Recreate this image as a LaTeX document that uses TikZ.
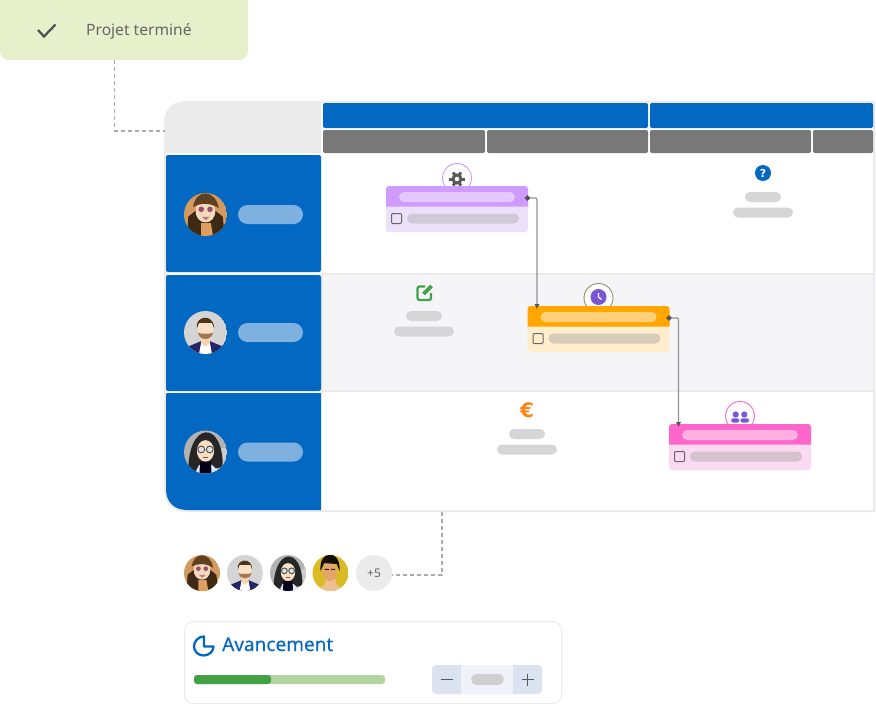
\documentclass[tikz,border=0pt]{standalone}
\usepackage{fontspec}
\setmainfont{Noto Sans}
\newfontfamily\iconfont{DejaVu Sans}
\newfontfamily\headfont[FakeBold=0.2]{Noto Sans}
\usetikzlibrary{arrows.meta,calc,shapes.misc}
\definecolor{blueA}{HTML}{0368C2}
\definecolor{blueB}{HTML}{7FB1E0}
\definecolor{greyA}{HTML}{787878}
\definecolor{edgeA}{HTML}{EBEBEB}
\definecolor{pillA}{HTML}{D6D6D6}
\definecolor{rowA}{HTML}{F5F5F8}
\definecolor{doneA}{HTML}{E6F1CB}
\definecolor{violetA}{HTML}{7A56D6}
\definecolor{greenA}{HTML}{43A047}
\definecolor{greenB}{HTML}{B4D5A0}
\definecolor{euroA}{HTML}{FF8412}
\definecolor{purpleA}{HTML}{CF9BFF}
\definecolor{purpleB}{HTML}{EDE0FB}
\definecolor{purpleC}{HTML}{E4C8FF}
\definecolor{purpleD}{HTML}{D0C9D8}
\definecolor{orangeA}{HTML}{FFA600}
\definecolor{orangeB}{HTML}{FFEDCB}
\definecolor{orangeC}{HTML}{FFD07A}
\definecolor{orangeD}{HTML}{D7CCB8}
\definecolor{orangeE}{HTML}{8E9160}
\definecolor{pinkA}{HTML}{FF66CC}
\definecolor{pinkB}{HTML}{FBD9F1}
\definecolor{pinkC}{HTML}{FFB0E3}
\definecolor{pinkD}{HTML}{D4C3CE}
\definecolor{stepA}{HTML}{DBE3F0}
\definecolor{stepB}{HTML}{EFF2F8}
\tikzstyle{pill}=[
	 rounded rectangle, fill=pillA,
	 minimum height=10pt, inner sep=0pt, outer sep=0pt
    ]
\tikzstyle{card}=[
	 rectangle, rounded corners=3pt,
	 minimum width=142pt, minimum height=46pt, inner sep=0pt, outer sep=0pt
    ]
\tikzstyle{bar}=[
	 rectangle, rounded corners=2pt, anchor=north west,
	 inner sep=0pt, outer sep=0pt
    ]
\tikzstyle{dashlink}=[draw=black!33, line width=1.6pt, dash pattern=on 4pt off 3pt]
\tikzstyle{tasklink}=[draw=black!42, line width=1.3pt, rounded corners=1pt, {Circle[length=5pt,color=black!68]}-{Latex[length=5pt,width=5.5pt,color=black!68]}]
\tikzstyle{badge}=[circle, draw, fill=white, line width=0.9pt, minimum size=29pt, inner sep=0pt]
\newcommand{\taskcard}[8]{%
	\node[badge,draw=#8] (#1-badge) at ($(#2,#3)+(71,-8)$) {};
	\node[card,anchor=north west,fill=#5] (#1) at (#2,#3) {};
	\fill[#4] ([yshift=-20.5pt]#1.north west) {[rounded corners=3pt] -- (#1.north west) -- (#1.north east)} -- ([yshift=-20.5pt]#1.north east) -- cycle;
	\node[pill,fill=#6,minimum width=116pt] (#1-title) at ($(#1.north)+(0,11)$) {};
	\node[rectangle,rounded corners=1pt,draw=black!60,line width=1pt,minimum size=10pt,inner sep=0pt,fill=#5] (#1-check) at ($(#1.north west)+(10.5,32.5)$) {};
	\node[pill,fill=#7,minimum width=112pt] (#1-line) at ($(#1.north west)+(77,32.5)$) {};
	\coordinate (#1-out) at ($(#1.north east)+(-3,12)$);
	\coordinate (#1-in) at ($(#1.north west)+(9.5,3)$);
}
\newcommand{\milestone}[3]{%
	\node[pill,minimum width=36pt] (#1-top) at (#2,#3) {};
	\node[pill,minimum width=60pt] (#1-low) at (#2,#3+15.5) {};
}
\newcommand{\avatarA}[3]{%
	\begin{scope}[shift={(#1,#2)},scale=#3/10]
		\clip (0,0) circle (10);
		\fill[brown!85!orange!80!white] (0,0) circle (10);
		\fill[black!68!brown] (-8.5,10) -- (-8,1) -- (-3,-3) -- (3,-3) -- (8,1) -- (9,10) -- cycle;
		\fill[brown!70!orange!75!white] (-2,10) -- (-2,4) -- (2.5,4) -- (3.5,10) -- cycle;
		\fill[brown!55!orange!30!white] (0,-1.5) ellipse (4.6 and 5.2);
		\fill[black!50!brown] (-5.8,-3.5) .. controls (-4.5,-12) and (4.5,-12) .. (6.2,-3) .. controls (2,-5.5) and (-2,-5.5) .. (-5.8,-3.5) -- cycle;
		\fill[purple!60!black!70!white] (-2,-2.4) circle (1.3) (2.1,-2.4) circle (1.3);
		\fill[white!70!red!70!black] (-1.7,1.1) -- (2,1.1) -- (0.2,2.6) -- cycle;
	\end{scope}
}
\newcommand{\avatarB}[3]{%
	\begin{scope}[shift={(#1,#2)},scale=#3/10]
		\clip (0,0) circle (10);
		\fill[black!17] (0,0) circle (10);
		\fill[blue!30!black!85!white] (-9,10) -- (-8,6.5) -- (-2,4) -- (2,4) -- (8,6.5) -- (9,10) -- cycle;
		\fill[white] (-3,10) -- (-2,4.5) -- (2,4.5) -- (3,10) -- cycle;
		\fill[brown!45!orange!35!white] (-2,5) -- (-2,1) -- (2,1) -- (2,5) -- (0,6.5) -- cycle;
		\fill[brown!35!orange!25!white] (0,-2) ellipse (3.6 and 4.8);
		\fill[brown!75!black!85!white] (-3.5,0) .. controls (-3,4) and (3,4) .. (3.5,0) -- (2,0.5) -- (-2,0.5) -- cycle;
		\fill[black!60!brown] (-4,-2) .. controls (-5,-8) and (4,-9) .. (4,-2) -- (3,-4.5) -- (-3,-4.5) -- cycle;
	\end{scope}
}
\newcommand{\avatarC}[3]{%
	\begin{scope}[shift={(#1,#2)},scale=#3/10]
		\clip (0,0) circle (10);
		\fill[black!30] (0,0) circle (10);
		\fill[white!80!black] (5,-2) rectangle (10,10);
		\fill[black!85] (-8,10) .. controls (-8.5,-15) and (8.5,-15) .. (8,7) -- cycle;
		\fill[white!90!blue] (-5,10) -- (-3,6) -- (3,6) -- (7,10) -- cycle;
		\fill[black!90!blue] (-2.8,10) -- (-2.5,4.5) -- (2.5,4.5) -- (2.8,10) -- cycle;
		\fill[brown!35!orange!25!white] (0,-0.5) ellipse (4 and 5);
		\draw[black!70,line width=0.9pt,fill=white!75!gray] (-2,-1.2) circle (1.6) (2,-1.2) circle (1.6);
		\fill[red!50!black!75!white] (-1.3,2.2) rectangle (1.3,2.9);
	\end{scope}
}
\newcommand{\avatarD}[3]{%
	\begin{scope}[shift={(#1,#2)},scale=#3/10]
		\clip (0,0) circle (10);
		\fill[yellow!70!orange!85!black] (0,0) circle (10);
		\fill[brown!50!orange!50!white] (-8,10) -- (-3,6) -- (-2.5,2) -- (2.5,2) -- (3,6) -- (8,10) -- cycle;
		\fill[brown!65!orange!70!white] (-0.5,-1) ellipse (4 and 5.5);
		\fill[black!90!brown] (-5.5,-1) .. controls (-7,-13) and (6,-14) .. (5,-1) -- (3.5,-5) -- (-3.5,-5.5) -- cycle;
		\fill[black!75!brown] (-3.2,-2.3) rectangle (-0.9,-1.7) (0.2,-2.3) rectangle (2.5,-1.7);
	\end{scope}
}

\begin{document}
\begin{tikzpicture}[x=1pt,y=-1pt]
\useasboundingbox (0,0) rectangle (876,704);
\fill[white] (0,0) rectangle (876,704);

% status box
\node[rectangle,rounded corners=9pt,fill=doneA,minimum width=248pt,minimum height=70pt,inner sep=0pt,outer sep=0pt,anchor=north west] (done) at (0,-10) {};
\draw[black!68,line width=2.3pt] (38,30) -- (44,36.5) -- (55.5,24.5);
\node[anchor=base west,text=black!60,font=\fontsize{15.6}{17}\selectfont,inner sep=0pt] (donelabel) at (86,35.5) {Projet terminé};

% grid
\filldraw[draw=edgeA,fill=white,line width=2pt] (874,102) -- (186,102) .. controls (173,102) and (165,110) .. (165,123) -- (165,489) .. controls (165,502) and (173,511) .. (186,511) -- (874,511) -- cycle;
\fill[edgeA] (321,102) -- (186,102) .. controls (173,102) and (165,110) .. (165,123) -- (165,153) -- (321,153) -- cycle;
\filldraw[draw=edgeA,fill=rowA,line width=2pt] (322,274) rectangle (874,391);

% header
\node[bar,fill=blueA,minimum width=325pt,minimum height=25pt] (monthA) at (323,103) {};
\node[bar,fill=blueA,minimum width=223pt,minimum height=25pt] (monthB) at (650,103) {};
\node[bar,fill=greyA,minimum width=162pt,minimum height=23pt] (weekA) at (323,130) {};
\node[bar,fill=greyA,minimum width=161pt,minimum height=23pt] (weekB) at (487,130) {};
\node[bar,fill=greyA,minimum width=161pt,minimum height=23pt] (weekC) at (650,130) {};
\node[bar,fill=greyA,minimum width=60pt,minimum height=23pt] (weekD) at (813,130) {};

% rows
\node[bar,fill=blueA,minimum width=155pt,minimum height=117pt] (rowOne) at (166,155) {};
\node[bar,fill=blueA,minimum width=155pt,minimum height=116pt] (rowTwo) at (166,275) {};
\filldraw[fill=blueA,draw=none] (321,393) -- (168,393) .. controls (166.5,393) and (166,393.5) .. (166,395) -- (166,489) .. controls (166,502) and (174,510) .. (187,510) -- (321,510) -- cycle;
\node[pill,fill=blueB,minimum width=65pt,minimum height=19pt] (nameA) at (270.5,214.5) {};
\node[pill,fill=blueB,minimum width=65pt,minimum height=19pt] (nameB) at (270.5,332.5) {};
\node[pill,fill=blueB,minimum width=65pt,minimum height=19pt] (nameC) at (270.5,452) {};
\avatarA{205.5}{214.5}{21.5}
\avatarB{205.5}{332.5}{21.5}
\avatarC{205.5}{452}{21.5}

% milestones
\milestone{edit}{424}{316}
\milestone{euro}{527}{434}
\milestone{help}{763}{197}
\draw[greenA,line width=2.2pt,rounded corners=2pt] (425,286.5) -- (417.5,286.5) -- (417.5,300) -- (431,300) -- (431,293);
\draw[greenA,line width=3.6pt] (423.5,294) -- (431.5,286);
\node[text=euroA,font=\fontsize{20}{22}\iconfont\bfseries,inner sep=0pt] (euroicon) at (527,410.5) {€};
\node[circle,fill=blueA,minimum size=16pt,inner sep=0pt,text=white,font=\fontsize{11}{12}\iconfont\bfseries] (helpicon) at (763,173) {?};

% cards
\taskcard{plan}{386}{186}{purpleA}{purpleB}{purpleC}{purpleD}{purpleA}
\taskcard{build}{527.5}{306}{orangeA}{orangeB}{orangeC}{orangeD}{orangeE}
\taskcard{team}{669}{424}{pinkA}{pinkB}{pinkC}{pinkD}{pinkA}

\begin{scope}[shift={(plan-badge.center)},yshift=-1pt]
\foreach \a in {0,60,...,300} \draw[black!65,line width=3pt] (\a:4.5) -- (\a:7.6);
\draw[black!65,line width=3pt] (0,0) circle (4);
\end{scope}
\node[circle,fill=violetA,minimum size=16pt,inner sep=0pt] (clock) at ($(build-badge.center)+(0,-1)$) {};
\draw[white,line width=1.2pt] ($(clock.center)+(0,-4)$) -- (clock.center) -- ($(clock.center)+(3,2.5)$);
\begin{scope}[shift={(team-badge.center)},yshift=-1.5pt]
\fill[violetA] (-4.3,-3) circle (3.1) (4.3,-3) circle (3.1);
\fill[violetA,rounded corners=2pt] (-8.8,5) rectangle (-0.8,0.8) (0.4,5) rectangle (9,0.8);
\end{scope}

% links
\draw[tasklink] (plan-out) -| (build-in);
\draw[tasklink] (build-out) -| (team-in);

% people
\avatarA{202}{573}{18}
\avatarB{245}{573}{18}
\avatarC{288}{573}{18}
\avatarD{330.5}{573}{18}
\node[circle,fill=edgeA,minimum size=36pt,inner sep=0pt,text=black!60,font=\fontsize{12}{13}\selectfont] (more) at (374,573) {+5};

% dashed links
\coordinate (done-out) at (114.5,60);
\coordinate (grid-in) at (165,131);
\coordinate (grid-out) at (442,512);
\coordinate (more-out) at (392,575);
\draw[dashlink] (done-out) |- (grid-in);
\draw[dashlink] (grid-out) |- (more-out);

% progress
\node[rectangle,rounded corners=9pt,draw=edgeA,fill=white,line width=1pt,minimum width=377pt,minimum height=82pt,inner sep=0pt,outer sep=0pt,anchor=north west] (progress) at (184.5,621.5) {};
\draw[blueA,line width=2.3pt,line join=round] (204,636.5) .. controls (198.5,636.5) and (194,641) .. (194,646.5) .. controls (194,651.5) and (198.5,655.5) .. (203.5,655.5) .. controls (209,655.5) and (213.5,651.5) .. (213.5,646.5) -- (204,646.5) -- cycle;
\node[anchor=base west,text=blueA,font=\fontsize{19}{21}\headfont,inner sep=0pt] (progresslabel) at (222,651) {Avancement};
\node[bar,rounded corners=3pt,fill=greenB,minimum width=191pt,minimum height=9pt] (barback) at (194,675) {};
\node[bar,rounded corners=3pt,fill=greenA,minimum width=77pt,minimum height=9pt] (barfront) at (194,675) {};
\node[bar,rounded corners=4pt,fill=stepA,minimum width=110pt,minimum height=29pt] (stepper) at (432,665) {};
\node[bar,rounded corners=0pt,fill=stepB,minimum width=52pt,minimum height=29pt] (stepmid) at (461,665) {};
\node[pill,fill=black!19,minimum width=33pt,minimum height=11pt] (stepvalue) at (487.5,679.5) {};
\draw[black!65,line width=1.8pt] (440.5,679.5) -- (452.5,679.5);
\draw[black!65,line width=1.8pt] (521.5,679.5) -- (533.5,679.5) (527.5,673.5) -- (527.5,685.5);

\end{tikzpicture}
\end{document}
